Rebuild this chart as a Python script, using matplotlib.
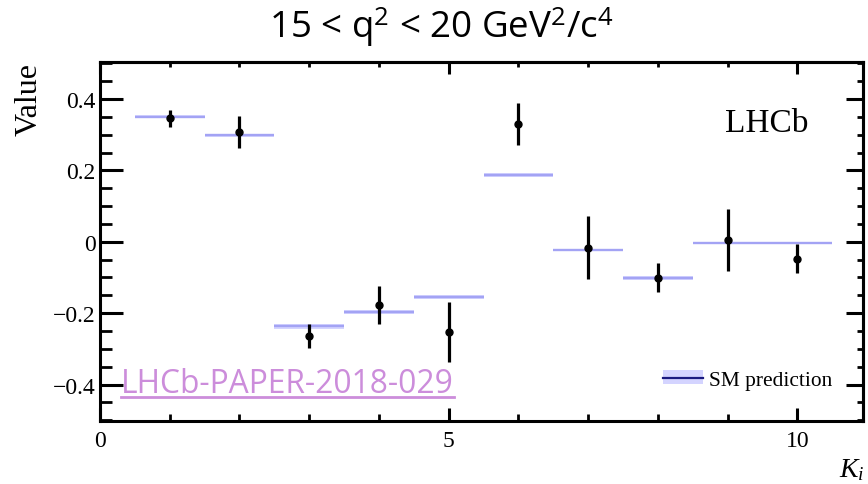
import matplotlib
matplotlib.use("Agg")
import matplotlib.pyplot as plt
import numpy as np
from matplotlib.ticker import MultipleLocator
from matplotlib.patches import Patch
from matplotlib.lines import Line2D

plt.rcParams['mathtext.fontset'] = 'custom'
plt.rcParams['mathtext.rm'] = 'Open Sans'
plt.rcParams['mathtext.it'] = 'Liberation Serif:italic'
plt.rcParams['axes.unicode_minus'] = True

# ---- data ----
bins = [1, 2, 3, 4, 5, 6, 7, 8, 9, 10]
values = [0.346, 0.308, -0.264, -0.178, -0.253, 0.330, -0.016, -0.101, 0.004, -0.047]
errors = [0.023, 0.044, 0.033, 0.053, 0.085, 0.058, 0.087, 0.041, 0.087, 0.040]
sm_pred = [0.351, 0.298, -0.237, -0.196, -0.154, 0.187, -0.023, -0.101, -0.002, -0.002]
sm_unc = [0.003, 0.003, 0.006, 0.006, 0.005, 0.005, 0.004, 0.006, 0.002, 0.002]

title = r"15 < q$^2$ < 20 GeV$^2$/c$^4$"
xlabel = r"$K_i$"
ylabel = "Value"
watermark = "LHCb-PAPER-2018-029"

W, H = 868, 485
fig = plt.figure(figsize=(W / 100, H / 100), dpi=100)
ax = fig.add_axes([100 / W, 1 - 422.3 / H, (863 - 100) / W, (422.3 - 63.3) / H])

serif = 'Liberation Serif'
band_col = '#d4d4ff'
line_col = '#a3a3f4'

x = np.array(bins, dtype=float)
sm = np.array(sm_pred)
su = np.array(sm_unc)
for xi, s, u in zip(x, sm, su):
    ax.fill_between([xi - 0.5, xi + 0.5], [s - u, s - u], [s + u, s + u],
                    color=band_col, lw=0, zorder=2)
ax.hlines(sm, x - 0.5, x + 0.5, color=line_col, lw=1.7, zorder=3)

ax.errorbar(x, values, yerr=errors, fmt='o', color='black', ms=5,
            elinewidth=2.3, capsize=0, zorder=5)

ax.set_xlim(0, 10.94)
ax.set_ylim(-0.503, 0.503)

ax.xaxis.set_major_locator(MultipleLocator(5))
ax.xaxis.set_minor_locator(MultipleLocator(1))
ax.yaxis.set_major_locator(MultipleLocator(0.2))
ax.yaxis.set_minor_locator(MultipleLocator(0.05))

for sp in ax.spines.values():
    sp.set_linewidth(2.2)

ax.tick_params(axis='y', which='major', direction='in', length=16.5, width=2.2, pad=3,
               labelsize=17)
ax.tick_params(axis='y', which='minor', direction='in', length=8.5, width=2.0)
ax.tick_params(axis='x', which='major', direction='in', length=9.4, width=2.2, pad=6,
               labelsize=17)
ax.tick_params(axis='x', which='minor', direction='in', length=5, width=2.0)


def fmt_y(v, pos):
    if abs(v) < 1e-9:
        return "0"
    return f"{v:.1f}".replace('-', '\u2212')


ax.yaxis.set_major_formatter(plt.FuncFormatter(fmt_y))
ax.xaxis.set_major_formatter(plt.FuncFormatter(lambda v, p: f"{int(round(v))}"))
for lab in ax.get_xticklabels() + ax.get_yticklabels():
    lab.set_fontfamily(serif)

secx = ax.secondary_xaxis('top')
secx.xaxis.set_major_locator(MultipleLocator(5))
secx.xaxis.set_minor_locator(MultipleLocator(1))
secx.tick_params(axis='x', which='major', direction='in', length=8.6, width=2.2, labeltop=False)
secx.tick_params(axis='x', which='minor', direction='in', length=3.6, width=2.0)
secx.spines['top'].set_linewidth(2.2)

secy = ax.secondary_yaxis('right')
secy.yaxis.set_major_locator(MultipleLocator(0.2))
secy.yaxis.set_minor_locator(MultipleLocator(0.05))
secy.tick_params(axis='y', which='major', direction='in', length=12.2, width=2.2, labelright=False)
secy.tick_params(axis='y', which='minor', direction='in', length=4.5, width=2.0)
secy.spines['right'].set_linewidth(2.2)

# labels
fig.text(0.034, 1 - 63 / H, ylabel, rotation=90, ha='center', va='top',
         family=serif, fontsize=23)
fig.text(839 / W, 1 - 477 / H, xlabel, ha='left', va='baseline', fontsize=20)
fig.text(725 / W, 1 - 131.7 / H, "LHCb", ha='left', va='baseline',
         family=serif, fontsize=24)

fig.text(441 / W, 1 - 38.3 / H, title, ha='center', va='baseline',
         family='Open Sans', fontsize=26.5)

# legend
h = (Patch(facecolor=band_col, edgecolor='none'), Line2D([], [], color='#1a1a80', lw=1.6))
ax.legend([h], ["SM prediction"], loc='center right', bbox_to_anchor=(0.96, 0.115),
          frameon=False, prop={'family': serif, 'size': 15.4}, handlelength=1.85,
          handleheight=0.6, handletextpad=0.3, borderaxespad=0, borderpad=0)

# watermark with underline
wm_col = '#cc8ddb'
t = fig.text(121 / W, 1 - 393.3 / H, watermark, ha='left', va='baseline',
             family='Open Sans', fontsize=22.9, color=wm_col, zorder=10)
fig.canvas.draw()
bb = t.get_window_extent()
uy = 1 - 397.8 / H
fig.add_artist(Line2D([bb.x0 / W, bb.x1 / W], [uy, uy], color=wm_col, lw=2.0,
                      transform=fig.transFigure, zorder=10))

fig.savefig("out.png", dpi=100)
